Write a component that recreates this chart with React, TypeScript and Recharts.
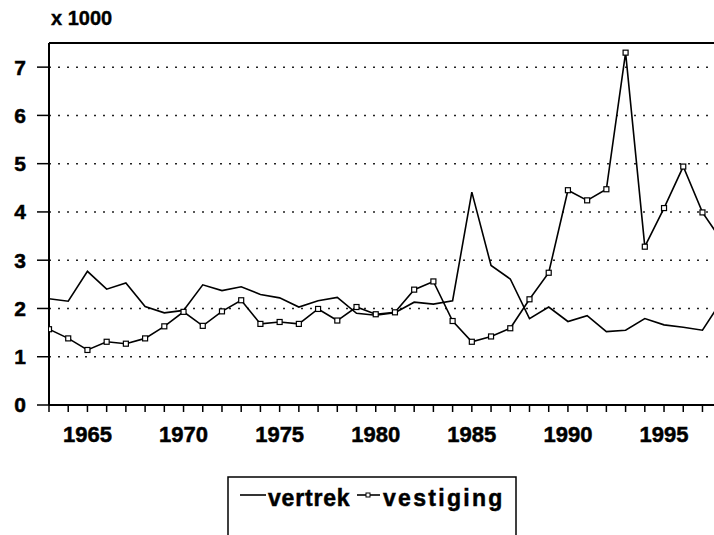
import * as React from 'react';
import { LineChart, Line, XAxis, YAxis, CartesianGrid, ReferenceLine } from 'recharts';

// jaren (laatste jaar valt net buiten de rand)
const years = [1963, 1964, 1965, 1966, 1967, 1968, 1969, 1970, 1971, 1972, 1973, 1974, 1975, 1976, 1977, 1978, 1979, 1980, 1981, 1982, 1983, 1984, 1985, 1986, 1987, 1988, 1989, 1990, 1991, 1992, 1993, 1994, 1995, 1996, 1997, 1998];
// x 1000
const vertrek = [2.20, 2.15, 2.77, 2.40, 2.53, 2.04, 1.91, 1.96, 2.49, 2.37, 2.45, 2.29, 2.22, 2.03, 2.16, 2.23, 1.90, 1.86, 1.91, 2.13, 2.09, 2.16, 4.41, 2.89, 2.61, 1.79, 2.03, 1.73, 1.85, 1.52, 1.55, 1.79, 1.66, 1.61, 1.55, 2.16];
const vestiging = [1.57, 1.38, 1.14, 1.31, 1.27, 1.38, 1.63, 1.93, 1.64, 1.94, 2.17, 1.68, 1.72, 1.68, 1.99, 1.75, 2.03, 1.88, 1.92, 2.39, 2.56, 1.74, 1.31, 1.42, 1.59, 2.19, 2.74, 4.45, 4.24, 4.47, 7.30, 3.28, 4.08, 4.94, 3.99, 3.41];
const yTicks = [0, 1, 2, 3, 4, 5, 6, 7];
const xTicks = years.slice(0, 35);

const FONT = '"Liberation Sans", Arial, Helvetica, sans-serif';

const data = years.map((y, i) => ({ jaar: y, vertrek: vertrek[i], vestiging: vestiging[i] }));

const SquareDot = (p: any) => {
  const { cx, cy, index } = p;
  if (cx == null || cy == null) return <g key={index} />;
  return <rect key={index} x={cx - 2.5} y={cy - 2.5} width={5} height={5} fill="#fff" stroke="#000" strokeWidth={1.2} />;
};

const heavy = { fill: '#000', stroke: '#000', strokeWidth: 0.5, fontFamily: FONT, fontWeight: 'bold' as const };

export default function App() {
  return (
    <div style={{ position: 'absolute', left: 0, top: 0, width: 714, height: 535, background: '#fff', overflow: 'hidden' }}>
      <div style={{ position: 'absolute', left: 51, top: 8, fontFamily: FONT, fontWeight: 'bold', fontSize: 20, lineHeight: '20px', color: '#000', WebkitTextStroke: '0.4px #000' }}>x 1000</div>
      <LineChart width={714} height={535} data={data} margin={{ top: 43, right: 0, bottom: 0, left: 0 }}>
        <CartesianGrid vertical={false} stroke="#222" strokeWidth={1.5} strokeDasharray="2 7" />
        <XAxis
          dataKey="jaar"
          type="number"
          domain={[1963, 1997.6]}
          allowDataOverflow
          ticks={xTicks}
          interval={0}
          tickFormatter={(v: number) => (v % 5 === 0 ? String(v) : '')}
          height={130}
          tickSize={7}
          tickMargin={14}
          axisLine={{ stroke: '#000', strokeWidth: 2 }}
          tickLine={{ stroke: '#000', strokeWidth: 1.5 }}
          tick={{ ...heavy, fontSize: 22 }}
        />
        <YAxis
          type="number"
          domain={[0, 7.5]}
          ticks={yTicks}
          interval={0}
          width={49}
          tickSize={12}
          tickMargin={11}
          axisLine={{ stroke: '#000', strokeWidth: 2 }}
          tickLine={{ stroke: '#000', strokeWidth: 1.5 }}
          tick={{ ...heavy, fontSize: 21 }}
        />
        <ReferenceLine y={7.5} stroke="#000" strokeWidth={2} ifOverflow="extendDomain" />
        <Line dataKey="vertrek" type="linear" stroke="#000" strokeWidth={1.6} dot={false} isAnimationActive={false} />
        <Line dataKey="vestiging" type="linear" stroke="#000" strokeWidth={1.6} dot={SquareDot} isAnimationActive={false} />
      </LineChart>
      <svg style={{ position: 'absolute', left: 0, top: 0 }} width={714} height={535}>
        <rect x={228} y={477} width={288} height={80} fill="none" stroke="#000" strokeWidth={1.5} />
        <line x1={240} y1={495} x2={266} y2={495} stroke="#000" strokeWidth={1.6} />
        <text x={268} y={506} {...heavy} fontSize={23} letterSpacing={0.8}>vertrek</text>
        <line x1={357} y1={495} x2={380} y2={495} stroke="#000" strokeWidth={1.6} />
        <rect x={366} y={493} width={4} height={4} fill="#fff" stroke="#000" strokeWidth={1} />
        <text x={383} y={506} {...heavy} fontSize={23} letterSpacing={2.3}>vestiging</text>
      </svg>
    </div>
  );
}
